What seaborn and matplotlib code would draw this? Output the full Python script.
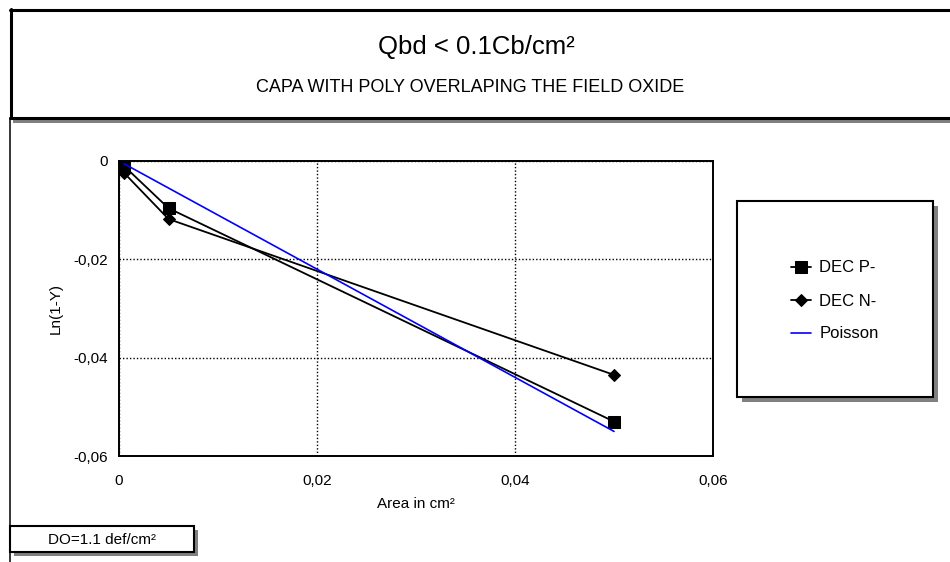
import matplotlib
matplotlib.use("Agg")
import matplotlib.pyplot as plt
from matplotlib.patches import Rectangle
from matplotlib.lines import Line2D
from matplotlib.ticker import FixedLocator, FuncFormatter
import seaborn as sns
import pandas as pd

# ---- data ----
area = [0.0005, 0.005, 0.05]
dec_p = [-0.001, -0.0096, -0.053]
dec_n = [-0.0024, -0.0118, -0.0435]
poisson_area = [0.0005, 0.05]
poisson = [-0.00055, -0.055]
series_names = ["DEC P-", "DEC N-", "Poisson"]
x_ticks = [0, 0.02, 0.04, 0.06]
y_ticks = [0, -0.02, -0.04, -0.06]
title = "Qbd < 0.1Cb/cm²"
subtitle = "CAPA WITH POLY OVERLAPING THE FIELD OXIDE"
x_label = "Area in cm²"
y_label = "Ln(1-Y)"
note = "DO=1.1 def/cm²"

sns.set_style("white")
plt.rcParams["font.family"] = ["Liberation Sans", "DejaVu Sans"]
plt.rcParams["text.color"] = "black"
plt.rcParams["axes.labelcolor"] = "black"

W, H = 950, 562
fig = plt.figure(figsize=(W / 100, H / 100), dpi=100)
fig.patch.set_facecolor("white")


def fx(px):
    return px / W


def fy(py):
    return 1 - py / H


def frect(x0, y0, x1, y1, **kw):
    r = Rectangle((fx(x0), fy(y1)), fx(x1) - fx(x0), fy(y0) - fy(y1),
                  transform=fig.transFigure, **kw)
    fig.add_artist(r)
    return r


def fline(xs, ys, **kw):
    fig.add_artist(Line2D([fx(v) for v in xs], [fy(v) for v in ys],
                          transform=fig.transFigure, **kw))


# ---- frames ----
frect(13, 119, 960, 123, facecolor="#808080", edgecolor="none")
fline([10, 960], [9.5, 9.5], color="black", lw=2.2)
fline([10.5, 10.5], [8.5, 118], color="black", lw=2.2)
fline([10, 960], [117.5, 117.5], color="black", lw=2.2)
fline([10, 10], [118, 562], color="black", lw=1.1)

# legend box
frect(742, 206, 938, 402, facecolor="#808080", edgecolor="none")
frect(737, 201, 933, 397, facecolor="white", edgecolor="black", lw=1.5)

# note box
frect(14, 530, 198, 556, facecolor="#808080", edgecolor="none")
frect(10, 526, 194, 552, facecolor="white", edgecolor="black", lw=1.5)
fig.text(fx(102), fy(539.5), note, ha="center", va="center", fontsize=11)

# titles
fig.text(fx(476), fy(47), title, ha="center", va="center", fontsize=18.5)
fig.text(fx(470), fy(88), subtitle, ha="center", va="center", fontsize=13)

# ---- axes ----
ax = fig.add_axes([fx(119), fy(456), fx(713) - fx(119), fy(161) - fy(456)])

df_p = pd.DataFrame({"area": area, "val": dec_p})
df_n = pd.DataFrame({"area": area, "val": dec_n})
df_po = pd.DataFrame({"area": poisson_area, "val": poisson})

sns.lineplot(data=df_p, x="area", y="val", ax=ax, color="black", lw=1.3,
             marker="s", markersize=9, markeredgecolor="black",
             markerfacecolor="black", label=series_names[0], zorder=4)
sns.lineplot(data=df_n, x="area", y="val", ax=ax, color="black", lw=1.3,
             marker="D", markersize=6.5, markeredgecolor="black",
             markerfacecolor="black", label=series_names[1], zorder=4)
sns.lineplot(data=df_po, x="area", y="val", ax=ax, color="#0000ff", lw=1.2,
             label=series_names[2], zorder=5)

ax.set_xlim(0, 0.06)
ax.set_ylim(-0.06, 0)
ax.xaxis.set_major_locator(FixedLocator(x_ticks))
ax.yaxis.set_major_locator(FixedLocator(y_ticks))
fmt = FuncFormatter(lambda v, p: "0" if abs(v) < 1e-12 else f"{v:.2f}".replace(".", ","))
ax.xaxis.set_major_formatter(fmt)
ax.yaxis.set_major_formatter(fmt)
ax.tick_params(axis="both", direction="in", length=4, width=1, colors="black",
               labelsize=11, pad=8)
ax.tick_params(axis="x", pad=13)
ax.grid(True, color="black", linestyle=(0, (1, 1.5)), lw=1)
for s in ax.spines.values():
    s.set_visible(True)
    s.set_color("black")
    s.set_linewidth(1.4)
ax.set_xlabel(x_label, fontsize=11)
ax.set_ylabel(y_label, fontsize=11)
ax.xaxis.set_label_coords(0.5, (456 - 497) / 295)
ax.yaxis.set_label_coords((63 - 119) / 594, 0.5)

handles, labels = ax.get_legend_handles_labels()
ax.get_legend().remove()
fig.legend(handles, labels, loc="center left", bbox_to_anchor=(fx(776), fy(301)),
           bbox_transform=fig.transFigure, frameon=False, fontsize=12,
           handlelength=1.2, handletextpad=0.5, labelspacing=1.08)

fig.savefig("out.png", dpi=100)
